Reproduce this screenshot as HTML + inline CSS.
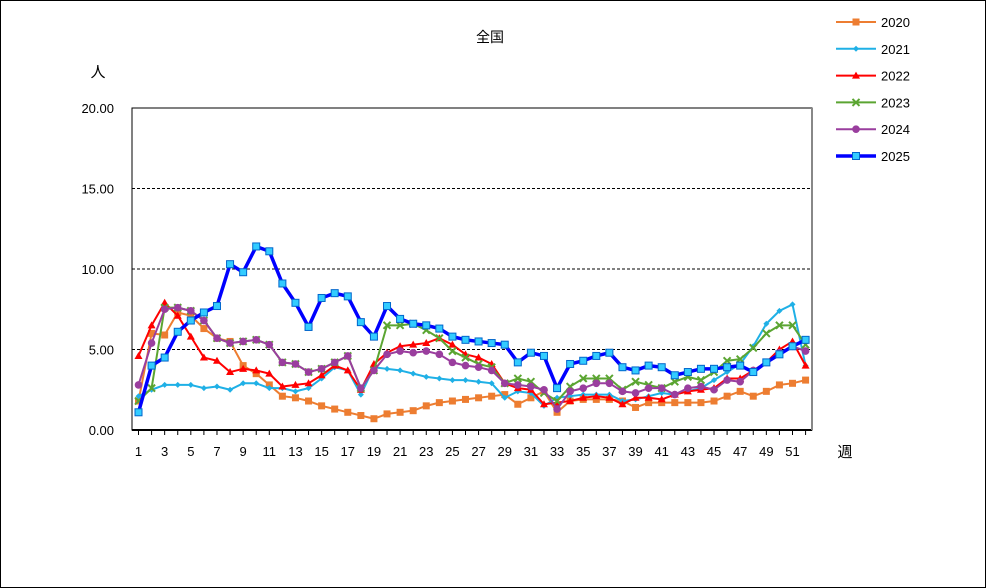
<!DOCTYPE html><html><head><meta charset="utf-8"><style>
body{margin:0;background:#fff}
svg{display:block;font-family:"Liberation Sans","Noto Sans CJK JP",sans-serif}
</style></head><body>
<svg id="s" width="986" height="588" xmlns="http://www.w3.org/2000/svg">
<rect x="0.5" y="0.5" width="985" height="587" fill="#fff" stroke="#000"/>
<text x="490" y="42" font-size="14" text-anchor="middle">全国</text>
<text x="98" y="77" font-size="15" text-anchor="middle">人</text>
<text x="845" y="457" font-size="15" text-anchor="middle">週</text>
<g id="g"></g>
</svg>
<script>
const g=document.getElementById('g');
let h='';
const L=132,R=812,T=108,B=430;
const X=w=>138.5+(w-1)*13.08, Y=v=>B-v*(B-T)/20;
for(const v of [5,10,15]) h+=`<line x1="${L}" x2="${R}" y1="${Y(v)}" y2="${Y(v)}" stroke="#000" stroke-dasharray="3,2" stroke-width="1"/>`;
for(const v of [0,5,10,15,20]) h+=`<text x="114" y="${Y(v)+5}" font-size="13" text-anchor="end">${v.toFixed(2)}</text>`;
for(let w=1;w<=52;w++){h+=`<line x1="${X(w)}" x2="${X(w)}" y1="${B}" y2="${B+5}" stroke="#000"/>`; if(w%2) h+=`<text x="${X(w)}" y="456" font-size="13" text-anchor="middle">${w}</text>`;}
h+=`<rect x="${L}" y="${T}" width="${R-L}" height="${B-T}" fill="none" stroke="#000" stroke-width="1"/>`;
h+=`<line x1="${L}" x2="${R}" y1="${B}" y2="${B}" stroke="#000" stroke-width="2"/><line x1="${R}" x2="${R}" y1="${T}" y2="${B}" stroke="#888" stroke-width="2"/>`;
const S=[
['2020','#ED7D31',2,'sq',[1.8,6.0,5.9,7.3,7.1,6.3,5.7,5.5,4.0,3.5,2.8,2.1,2.0,1.8,1.5,1.3,1.1,0.9,0.7,1.0,1.1,1.2,1.5,1.7,1.8,1.9,2.0,2.1,2.2,1.6,2.0,2.4,1.1,1.8,1.9,1.9,1.9,1.8,1.4,1.7,1.7,1.7,1.7,1.7,1.8,2.1,2.4,2.1,2.4,2.8,2.9,3.1]],
['2021','#1FB0E6',2,'dia',[2.1,2.5,2.8,2.8,2.8,2.6,2.7,2.5,2.9,2.9,2.6,2.6,2.4,2.6,3.2,3.9,3.7,2.2,3.9,3.8,3.7,3.5,3.3,3.2,3.1,3.1,3.0,2.9,2.0,2.4,2.3,1.5,2.0,2.1,2.2,2.2,2.2,1.8,1.9,2.1,2.3,2.2,2.4,2.6,3.1,3.6,4.1,5.2,6.6,7.4,7.8,4.0]],
['2022','#FF0000',2,'tri',[4.6,6.5,7.9,7.1,5.8,4.5,4.3,3.6,3.8,3.7,3.5,2.7,2.8,2.9,3.4,4.0,3.7,2.5,4.1,4.8,5.2,5.3,5.4,5.7,5.3,4.7,4.5,4.1,2.9,2.6,2.5,1.6,1.7,1.8,2.0,2.1,2.0,1.6,2.0,2.0,1.9,2.2,2.4,2.5,2.6,3.2,3.2,3.7,4.2,5.0,5.5,4.0]],
['2023','#5BA532',2,'x',[1.8,2.6,7.6,7.6,7.4,6.8,5.7,5.4,5.5,5.6,5.3,4.2,4.1,3.6,3.8,4.2,4.6,2.6,3.7,6.5,6.5,6.6,6.2,5.7,4.9,4.5,4.1,3.9,2.9,3.2,3.0,2.3,1.8,2.7,3.2,3.2,3.2,2.5,3.0,2.8,2.6,3.0,3.3,3.1,3.6,4.3,4.4,5.1,6.0,6.5,6.5,5.3]],
['2024','#9A3E9E',2,'dot',[2.8,5.4,7.5,7.6,7.4,6.8,5.7,5.4,5.5,5.6,5.3,4.2,4.1,3.6,3.8,4.2,4.6,2.6,3.7,4.7,4.9,4.8,4.9,4.7,4.2,4.0,3.9,3.7,2.9,2.8,2.7,2.5,1.3,2.4,2.6,2.9,2.9,2.4,2.3,2.6,2.6,2.2,2.6,2.7,2.5,3.1,3.0,3.7,4.2,4.8,5.2,4.9]],
['2025','#0000FF',3.5,'bsq',[1.1,4.0,4.5,6.1,6.8,7.3,7.7,10.3,9.8,11.4,11.1,9.1,7.9,6.4,8.2,8.5,8.3,6.7,5.8,7.7,6.9,6.6,6.5,6.3,5.8,5.6,5.5,5.4,5.3,4.2,4.8,4.6,2.6,4.1,4.3,4.6,4.8,3.9,3.7,4.0,3.9,3.4,3.6,3.8,3.8,3.9,4.0,3.6,4.2,4.7,5.2,5.6]]];
function mk(t,c,x,y){
 if(t=='sq')return `<rect x="${x-3.5}" y="${y-3.5}" width="7" height="7" fill="${c}"/>`;
 if(t=='dia')return `<path d="M${x} ${y-3}L${x+3} ${y}L${x} ${y+3}L${x-3} ${y}Z" fill="${c}"/>`;
 if(t=='tri')return `<path d="M${x} ${y-4}L${x+4} ${y+3}L${x-4} ${y+3}Z" fill="${c}"/>`;
 if(t=='x')return `<path d="M${x-3.5} ${y-3.5}L${x+3.5} ${y+3.5}M${x+3.5} ${y-3.5}L${x-3.5} ${y+3.5}" stroke="${c}" stroke-width="2"/>`;
 if(t=='dot')return `<circle cx="${x}" cy="${y}" r="3.8" fill="${c}"/>`;
 return `<rect x="${x-3.5}" y="${y-3.5}" width="7" height="7" fill="#3CF" stroke="#06C" stroke-width="1"/>`;
}
S.forEach((s,i)=>{
 const [n,c,w,t,d]=s;
 h+=`<polyline fill="none" stroke="${c}" stroke-width="${w}" stroke-linejoin="round" points="${d.map((v,k)=>X(k+1)+','+Y(v)).join(' ')}"/>`;
 d.forEach((v,k)=>h+=mk(t,c,X(k+1),Y(v)));
 const ly=22+i*26.8;
 h+=`<line x1="836" x2="876" y1="${ly}" y2="${ly}" stroke="${c}" stroke-width="${w}"/>`+mk(t,c,856,ly);
 h+=`<text x="881" y="${ly+5}" font-size="13">${n}</text>`;
});
g.innerHTML=h;
</script>
</body></html>
